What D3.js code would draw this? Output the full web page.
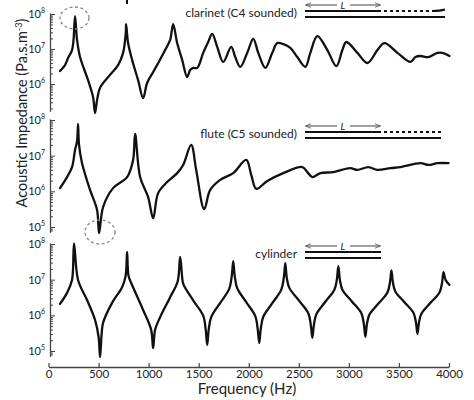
<!DOCTYPE html>
<html>
<head>
<meta charset="utf-8">
<script src="https://cdn.jsdelivr.net/npm/d3@7"></script>
<style>
  body { margin: 0; background: #fff; }
  svg { display: block; font-family: Lato, "Open Sans", sans-serif; }
</style>
</head>
<body>
<div id="chart"></div>
<script>
// frequency axis
const xTicks = [0, 500, 1000, 1500, 2000, 2500, 3000, 3500, 4000];

// clarinet: frequency (Hz) and log10 of impedance
const clarinetFreq = [115, 165, 195, 235, 250, 265, 285, 315, 395, 445, 465, 485, 515, 615, 695, 745, 772, 775, 795, 835, 895, 945, 985, 1045, 1100, 1165, 1215, 1245, 1285, 1335, 1385, 1415, 1445, 1485, 1545, 1595, 1635, 1685, 1745, 1825, 1865, 1915, 1985, 2045, 2095, 2165, 2235, 2285, 2345, 2415, 2485, 2565, 2615, 2685, 2785, 2875, 2935, 2975, 3085, 3185, 3285, 3355, 3485, 3615, 3665, 3715, 3795, 3885, 3935, 4005];
const clarinetLogZ = [6.37, 6.54, 6.74, 6.97, 7.26, 7.94, 7.26, 6.77, 6.11, 5.63, 5.17, 5.54, 5.89, 6.26, 6.54, 6.89, 7.46, 7.71, 7.17, 6.69, 6.11, 5.6, 6.03, 6.34, 6.62, 6.97, 7.26, 7.71, 7.17, 6.69, 6.2, 6.4, 6.46, 6.46, 6.89, 7.2, 7.43, 7.06, 6.63, 7.06, 6.77, 6.49, 6.89, 7.29, 6.89, 6.46, 6.89, 7.17, 7.14, 7.03, 6.77, 6.49, 6.89, 7.37, 6.97, 6.51, 6.97, 7.2, 6.89, 6.6, 6.97, 7.17, 6.89, 6.63, 6.77, 6.8, 6.77, 6.89, 6.89, 6.8];

// flute
const fluteFreq = [115, 185, 235, 265, 285, 295, 305, 335, 415, 485, 505, 545, 645, 785, 845, 865, 915, 995, 1045, 1095, 1185, 1285, 1345, 1425, 1475, 1555, 1615, 1715, 1845, 1975, 2025, 2075, 2185, 2345, 2535, 2585, 2635, 2715, 2845, 3015, 3085, 3195, 3285, 3415, 3515, 3715, 3795, 3885, 3995];
const fluteLogZ = [6.09, 6.4, 6.68, 7.16, 7.4, 7.89, 7.3, 6.79, 6.04, 5.48, 4.83, 5.56, 6.09, 6.4, 6.88, 7.61, 6.4, 5.84, 5.25, 5.95, 6.26, 6.51, 6.74, 7.3, 6.6, 5.5, 6.04, 6.32, 6.51, 6.88, 6.46, 6.07, 6.29, 6.51, 6.68, 6.54, 6.4, 6.51, 6.54, 6.65, 6.6, 6.68, 6.6, 6.65, 6.68, 6.79, 6.74, 6.79, 6.79];

// cylinder
const cylinderFreq = [115, 185, 235, 255, 295, 385, 465, 500, 515, 530, 545, 635, 735, 770, 785, 800, 835, 945, 1025, 1045, 1065, 1115, 1215, 1290, 1315, 1340, 1355, 1450, 1545, 1570, 1585, 1600, 1625, 1715, 1805, 1830, 1845, 1860, 1885, 1975, 2065, 2090, 2105, 2120, 2145, 2235, 2325, 2350, 2365, 2380, 2405, 2500, 2595, 2620, 2635, 2650, 2675, 2765, 2855, 2880, 2895, 2910, 2935, 3030, 3125, 3150, 3165, 3180, 3205, 3295, 3385, 3410, 3425, 3440, 3465, 3555, 3645, 3670, 3685, 3700, 3725, 3815, 3905, 3930, 3945, 3965, 4005];
const cylinderLogZ = [6.32, 6.63, 6.99, 8.02, 6.99, 6.43, 5.87, 5.4, 4.83, 5.45, 5.79, 6.35, 6.79, 7.1, 7.78, 7.1, 6.85, 6.15, 5.6, 5.08, 5.6, 5.95, 6.51, 6.95, 7.64, 6.95, 6.82, 6.4, 5.99, 5.6, 5.17, 5.6, 5.95, 6.35, 6.74, 7.1, 7.52, 7.1, 6.76, 6.37, 5.98, 5.6, 5.22, 5.62, 5.96, 6.34, 6.72, 7.05, 7.46, 7.05, 6.77, 6.42, 6.06, 5.72, 5.37, 5.72, 6.03, 6.38, 6.72, 7.0, 7.38, 7.0, 6.72, 6.39, 6.06, 5.75, 5.4, 5.75, 6.02, 6.33, 6.64, 6.92, 7.26, 6.92, 6.66, 6.37, 6.07, 5.8, 5.48, 5.8, 6.05, 6.35, 6.64, 6.9, 7.21, 7.0, 6.85];

const panels = [
  { label: "clarinet (C4 sounded)", freq: clarinetFreq, logZ: clarinetLogZ,
    lo: 5.22, hi: 8.03, y8: 14, dec: 35, labels: [6, 7, 8],
    tubeY: 11, tubeEnd: 445, open: "bell" },
  { label: "flute (C5 sounded)", freq: fluteFreq, logZ: fluteLogZ,
    lo: 4.85, hi: 8.03, y8: 120, dec: 35.67, labels: [5, 6, 7, 8],
    tubeY: 132, tubeEnd: 441, open: "flute" },
  { label: "cylinder", freq: cylinderFreq, logZ: cylinderLogZ,
    lo: 4.85, hi: 8.03, y8: 244, dec: 35.67, labels: [5, 6, 7, 8],
    tubeY: 252, tubeEnd: 381, open: "none" }
];

const W = 474, H = 400;
const svg = d3.select("#chart").append("svg").attr("width", W).attr("height", H);

const x = d3.scaleLinear().domain([0, 4000]).range([48.5, 449]);
const axisCol = "#444";

// x axis
const xg = svg.append("g").attr("transform", "translate(0,367)")
  .call(d3.axisBottom(x).tickValues(xTicks).tickFormat(d3.format("d"))
    .tickSizeInner(-4).tickSizeOuter(0).tickPadding(3));
xg.select(".domain").attr("stroke", axisCol).attr("stroke-width", 1.3);
xg.selectAll(".tick line").attr("stroke", axisCol).attr("stroke-width", 1.2);
xg.selectAll(".tick text").attr("font-size", 11.5).attr("font-family", "Lato").attr("fill", "#222");

svg.append("text").attr("x", 247).attr("y", 394).attr("text-anchor", "middle")
  .attr("font-size", 15).attr("fill", "#222").text("Frequency (Hz)");

// y title
const yt = svg.append("text").attr("transform", "translate(27,113) rotate(-90)")
  .attr("text-anchor", "middle").attr("font-size", 14.5).attr("fill", "#222");
yt.append("tspan").text("Acoustic Impedance (Pa.s.m");
yt.append("tspan").attr("font-size", 9).attr("dy", -5).text("-3");
yt.append("tspan").attr("dy", 5).text(")");

// arrowhead for the L markers
svg.append("defs").append("marker").attr("id", "ah")
  .attr("viewBox", "0 0 10 10").attr("refX", 9).attr("refY", 5)
  .attr("markerWidth", 6).attr("markerHeight", 6).attr("orient", "auto-start-reverse")
  .append("path").attr("d", "M0,1 L10,5 L0,9").attr("fill", "none").attr("stroke", "#444").attr("stroke-width", 1.2);

panels.forEach(p => {
  const y = d3.scaleLog().domain([10 ** p.lo, 10 ** p.hi])
    .range([p.y8 + (8 - p.lo) * p.dec, p.y8 - (p.hi - 8) * p.dec]);

  // minor and major ticks
  const minor = [], major = [];
  for (let d = 4; d <= 8; d++) {
    for (let m = 1; m <= 9; m++) {
      const v = m * 10 ** d, l = Math.log10(v);
      if (l < p.lo - 1e-9 || l > p.hi + 1e-9) continue;
      (m === 1 ? major : minor).push(v);
    }
  }
  const g = svg.append("g").attr("transform", "translate(50,0)");
  g.call(d3.axisRight(y).tickValues(minor).tickSizeInner(3).tickSizeOuter(0).tickFormat(""));
  g.append("g").call(d3.axisRight(y).tickValues(major).tickSizeInner(5).tickSizeOuter(0).tickFormat(""))
    .select(".domain").remove();
  g.selectAll(".domain").attr("stroke", axisCol).attr("stroke-width", 1.3);
  g.selectAll(".tick line").attr("stroke", axisCol).attr("stroke-width", 1);

  p.labels.forEach(e => {
    const t = svg.append("text").attr("x", 45).attr("y", y(10 ** e) + 4)
      .attr("text-anchor", "end").attr("font-size", 11).attr("fill", "#222");
    t.append("tspan").text("10");
    t.append("tspan").attr("font-size", 7).attr("dy", -5).text(e);
  });

  // curve
  const pts = p.freq.map((f, i) => [f, 10 ** p.logZ[i]]);
  svg.append("path").datum(pts)
    .attr("fill", "none").attr("stroke", "#111").attr("stroke-width", 2.3)
    .attr("stroke-linejoin", "round").attr("stroke-linecap", "round")
    .attr("d", d3.line().x(d => x(d[0])).y(d => y(d[1])).curve(d3.curveCatmullRom.alpha(0.5)));

  // label
  svg.append("text").attr("x", 297).attr("y", p.tubeY + 6).attr("text-anchor", "end")
    .attr("font-size", 12).attr("fill", "#222").text(p.label);

  // tube schematic
  const ty = p.tubeY, x0 = 305, xm = 381;
  const tube = svg.append("g").attr("stroke", "#111").attr("stroke-width", 2).attr("fill", "none");
  tube.append("line").attr("x1", x0).attr("x2", xm).attr("y1", ty).attr("y2", ty);
  tube.append("line").attr("x1", x0).attr("x2", p.tubeEnd).attr("y1", ty + 6).attr("y2", ty + 6);
  if (p.open === "bell") {
    tube.append("line").attr("x1", 384).attr("x2", 431).attr("y1", ty).attr("y2", ty).attr("stroke-dasharray", "3,3");
    tube.append("path").attr("d", `M432,${ty} Q440,${ty} 445,${ty - 1.5}`);
  } else if (p.open === "flute") {
    tube.append("line").attr("x1", 384).attr("x2", p.tubeEnd).attr("y1", ty).attr("y2", ty).attr("stroke-dasharray", "3,3");
  }
  const ay = ty - 6;
  const arr = svg.append("g").attr("stroke", "#444").attr("stroke-width", 1);
  arr.append("line").attr("x1", 337).attr("x2", x0 + 1).attr("y1", ay).attr("y2", ay).attr("marker-end", "url(#ah)");
  arr.append("line").attr("x1", 350).attr("x2", xm - 1).attr("y1", ay).attr("y2", ay).attr("marker-end", "url(#ah)");
  svg.append("text").attr("x", 343).attr("y", ay + 3.5).attr("text-anchor", "middle")
    .attr("font-size", 10).attr("font-style", "italic").attr("fill", "#222").text("L");
});

// dashed circles highlighting the first resonance
svg.append("ellipse").attr("cx", 74.5).attr("cy", 18).attr("rx", 14.5).attr("ry", 11)
  .attr("fill", "none").attr("stroke", "#888").attr("stroke-width", 1.3).attr("stroke-dasharray", "3,2.5");
svg.append("ellipse").attr("cx", 100).attr("cy", 232).attr("rx", 15).attr("ry", 12)
  .attr("fill", "none").attr("stroke", "#888").attr("stroke-width", 1.3).attr("stroke-dasharray", "3,2.5");

// stray mark at the top edge
svg.append("line").attr("x1", 127).attr("x2", 127).attr("y1", 0).attr("y2", 4)
  .attr("stroke", "#111").attr("stroke-width", 2);
</script>
</body>
</html>
